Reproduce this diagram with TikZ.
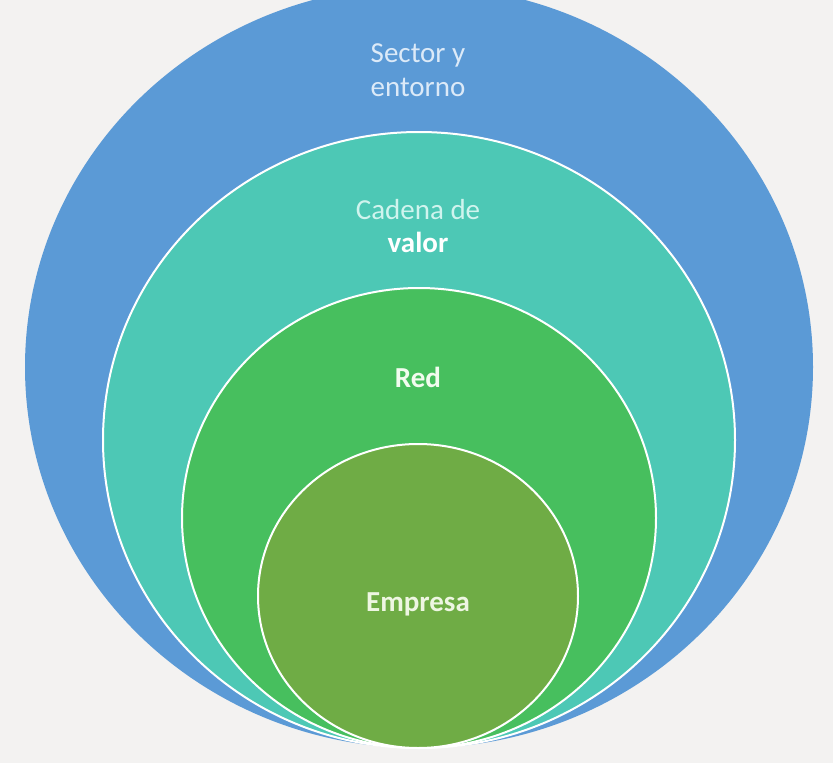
\documentclass[tikz,border=0pt]{standalone}
\usepackage{fontspec}
\setmainfont{Carlito}
\definecolor{bg}{HTML}{F3F2F1}
\definecolor{cblue}{HTML}{5B9AD6}
\definecolor{ccyan}{HTML}{4DC8B5}
\definecolor{cgreen}{HTML}{47BF5E}
\definecolor{colive}{HTML}{6FAC45}
\definecolor{tblue}{HTML}{DCEAF8}
\definecolor{tcyan}{HTML}{D0F4EE}
\definecolor{tgreen}{HTML}{F2FCEF}
\definecolor{tolive}{HTML}{EEF6E2}
\tikzset{
  ring/.style={draw=white, line width=2pt},
  lbl/.style={align=center, font=\fontsize{29}{34}\selectfont, inner sep=0pt},
}
\begin{document}
\begin{tikzpicture}[x=1pt,y=-1pt]
\useasboundingbox (0,0) rectangle (833,763);
\fill[bg] (0,0) rectangle (833,763);
\begin{scope}
\clip (0,0) rectangle (833,763);
\fill[cblue] (419,367) ellipse [x radius=394, y radius=381];
\draw[ring, fill=ccyan] (419,440) ellipse [x radius=316, y radius=308];
\draw[ring, fill=cgreen] (419,518) ellipse [x radius=237, y radius=230];
\draw[ring, fill=colive] (418,596) ellipse [x radius=160, y radius=152];
\end{scope}
\node[lbl, text=tblue] (sector) at (418,70) {Sector y\\entorno};
\node[lbl, text=tcyan] (cadena) at (418,210) {Cadena de};
\node[lbl, text=white, font=\fontsize{29}{34}\selectfont\bfseries] (valor) at (418,242) {valor};
\node[lbl, text=tgreen, font=\fontsize{29}{34}\selectfont\bfseries] (red) at (418,377) {Red};
\node[lbl, text=tolive, font=\fontsize{29}{34}\selectfont\bfseries] (empresa) at (418,604) {Empresa};
\end{tikzpicture}
\end{document}
